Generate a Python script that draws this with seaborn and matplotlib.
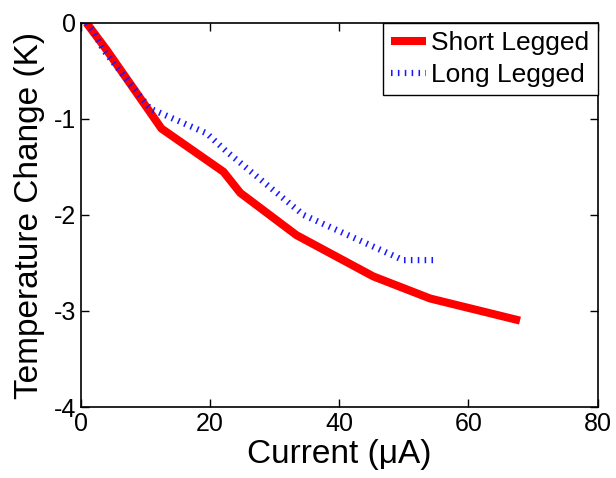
import seaborn as sns
import pandas as pd
import matplotlib.pyplot as plt
import numpy as np
from matplotlib.ticker import FuncFormatter

# values
short_current = [0.9, 4.0, 12.5, 22.1, 24.7, 33.4, 45.3, 54.1, 68.0]
short_temp = [0.0, -0.28, -1.10, -1.55, -1.77, -2.21, -2.64, -2.87, -3.10]

long_current = [0.9, 2.0, 3.5, 10.7, 19.5, 22.6, 34.5, 49.9, 54.8]
long_temp = [0.0, -0.09, -0.28, -0.89, -1.15, -1.34, -2.00, -2.47, -2.47]

x_ticks = [0, 20, 40, 60, 80]
y_ticks = [0, -1, -2, -3, -4]

short_df = pd.DataFrame({'current': short_current, 'temp': short_temp})
long_df = pd.DataFrame({'current': long_current, 'temp': long_temp})

sns.set_style('ticks')
plt.rcParams['font.family'] = ['Liberation Sans', 'DejaVu Sans']
plt.rcParams['text.color'] = 'black'
plt.rcParams['axes.labelcolor'] = 'black'

fig = plt.figure(figsize=(6.16, 4.78), dpi=100)
ax = fig.add_axes([0.131, 0.1485, 0.839, 0.8035])

sns.lineplot(data=short_df, x='current', y='temp', ax=ax, color='#ff0000',
             lw=5.8, label='Short Legged', sort=False, solid_capstyle='butt')
sns.lineplot(data=long_df, x='current', y='temp', ax=ax, color='#1a1aff',
             lw=4.5, linestyle=(0, (0.25, 0.85)), label='Long Legged', sort=False,
             dash_capstyle='butt')

ax.set_xlim(0, 80)
ax.set_ylim(-4, 0)
ax.set_xticks(x_ticks)
ax.set_yticks(y_ticks)
ax.yaxis.set_major_formatter(FuncFormatter(lambda v, p: '%d' % v))
ax.tick_params(direction='in', length=6, width=1, labelsize=18, top=True, right=True,
               colors='black', labelcolor='black')
for s in ax.spines.values():
    s.set_visible(True)
    s.set_linewidth(1.2)
    s.set_color('black')

ax.set_xlabel('Current (\u03bcA)', fontsize=24, labelpad=2, color='black')
ax.set_ylabel('Temperature Change (K)', fontsize=24, labelpad=6, color='black')

leg = ax.legend(loc='upper right', borderaxespad=0, fontsize=19, fancybox=False,
                frameon=True, edgecolor='black', framealpha=1, handlelength=1.35,
                handletextpad=0.2, labelspacing=0.3, borderpad=0.3)
leg.get_frame().set_linewidth(1.0)
for t in leg.get_texts():
    t.set_color('black')

plt.savefig('out.png', dpi=100)
